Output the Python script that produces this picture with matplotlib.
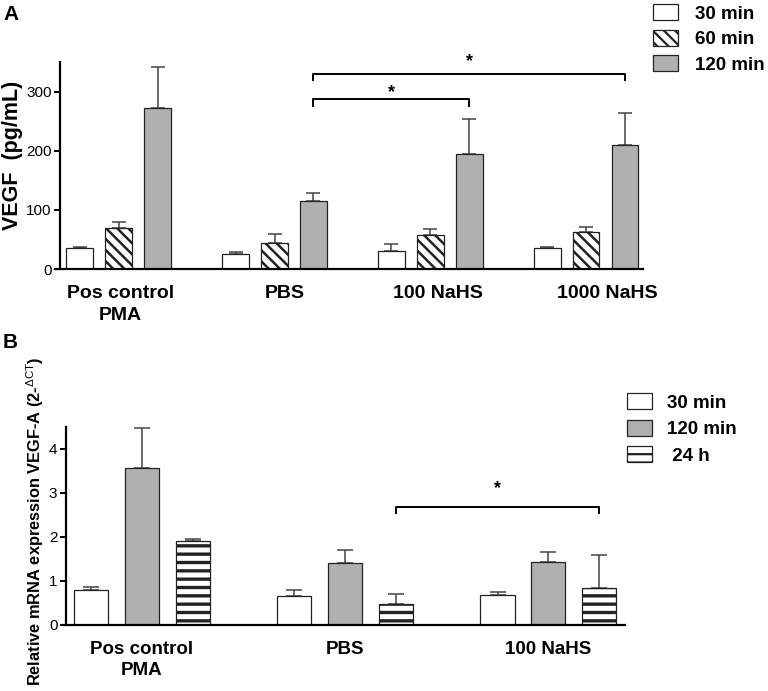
import matplotlib
matplotlib.use('Agg')
import numpy as np
from matplotlib import pyplot as plt

plt.rcParams['font.family'] = ['Liberation Sans', 'DejaVu Sans']
plt.rcParams['hatch.linewidth'] = 1.6
plt.rcParams['mathtext.fontset'] = 'custom'
plt.rcParams['mathtext.rm'] = 'Liberation Sans'

# ---- panel A: VEGF protein (pg/mL) ----
a_groups = ['Pos control\nPMA', 'PBS', '100 NaHS', '1000 NaHS']
a_series = ['30 min', '60 min', '120 min']
a_30 = [35, 26, 30, 35]
a_30_err = [1.5, 2.5, 13, 1.5]
a_60 = [70, 44, 58, 62]
a_60_err = [10, 15, 9, 9]
a_120 = [272, 115, 194, 209]
a_120_err = [70, 14, 59, 55]
a_label_shift = [0.04, 0.26, 0.19, 0.53]

# ---- panel B: relative mRNA VEGF-A ----
b_groups = ['Pos control\nPMA', 'PBS', '100 NaHS']
b_series = ['30 min', '120 min', ' 24 h']
b_30 = [0.79, 0.66, 0.68]
b_30_err = [0.07, 0.12, 0.06]
b_120 = [3.56, 1.41, 1.43]
b_120_err = [0.92, 0.29, 0.22]
b_24h = [1.90, 0.47, 0.84]
b_24h_err = [0.05, 0.23, 0.75]

GREY = '#b0b0b0'
EDGE = '#222222'


def draw_bars(ax, means, errs, fills, hatches, capsize, hatch_lw):
    n = len(means[0])
    base = np.arange(n) * 4
    bars = []
    for i in range(len(means)):
        x = base + i
        b = ax.bar(x, means[i], width=0.67, color=fills[i], edgecolor=EDGE,
                   linewidth=0.9, hatch=hatches[i], zorder=2)
        for p in b.patches:
            if hasattr(p, 'set_hatch_linewidth'):
                p.set_hatch_linewidth(hatch_lw)
        ax.errorbar(x, means[i], yerr=[np.zeros(n), errs[i]], fmt='none',
                    ecolor='#444444', elinewidth=1.1, capsize=capsize,
                    capthick=1.1, zorder=1)
        bars.append(b)
    return bars


def style_axis(ax):
    for s in ['top', 'right']:
        ax.spines[s].set_visible(False)
    ax.spines['left'].set_position(('data', -0.5))
    ax.spines['left'].set_linewidth(1.6)
    ax.spines['bottom'].set_linewidth(1.6)
    ax.tick_params(axis='y', length=4.5, width=1.4, pad=1.5, labelsize=11)
    ax.tick_params(axis='x', length=0, pad=11.5)


def bracket(ax, x0, x1, y, drop, star_y):
    ax.plot([x0, x0, x1, x1], [y - drop, y, y, y - drop], color='black',
            lw=1.4, clip_on=False)
    ax.text((x0 + x1) / 2, star_y, '*', ha='center', va='baseline',
            fontsize=13, fontweight='bold', clip_on=False)


fig = plt.figure(figsize=(7.68, 6.91), dpi=100)

# panel A
axA = fig.add_axes([0.0716, 0.6107, 0.7656, 0.2996])
barsA = draw_bars(axA, [a_30, a_60, a_120], [a_30_err, a_60_err, a_120_err],
                  ['white', 'white', GREY], ['', '\\\\\\', ''], 4.7, 1.8)
style_axis(axA)
axA.set_xlim(-0.63, 14.45)
axA.set_ylim(0, 350)
axA.set_yticks([0, 100, 200, 300])
axA.set_xticks(np.arange(4) * 4 + 1 + np.array(a_label_shift))
axA.set_xticklabels(a_groups, fontsize=14, fontweight='bold', linespacing=1.4)
bracket(axA, 6, 14, 329, 10, 343)
bracket(axA, 6, 10, 287, 12, 291)
axA.legend(barsA, a_series, loc='upper left', bbox_to_anchor=(0.850, 0.994),
           bbox_transform=fig.transFigure, frameon=False, borderpad=0,
           borderaxespad=0, handlelength=1.33, handleheight=0.96,
           handletextpad=0.9, labelspacing=0.37,
           prop={'size': 13.5, 'weight': 'bold'})
fig.text(13 / 768, 1 - 155 / 691, 'VEGF  (pg/mL)', rotation=90, ha='center',
         va='center', fontsize=15.5, fontweight='bold')
fig.text(3 / 768, 1 - 20 / 691, 'A', fontsize=15, fontweight='bold',
         va='baseline')

# panel B
axB = fig.add_axes([0.0803, 0.0959, 0.7335, 0.2866])
barsB = draw_bars(axB, [b_30, b_120, b_24h], [b_30_err, b_120_err, b_24h_err],
                  ['white', GREY, 'white'], ['', '', '--'], 6, 2.4)
style_axis(axB)
axB.set_xlim(-0.58, 10.51)
axB.set_ylim(0, 4.5)
axB.set_yticks([0, 1, 2, 3, 4])
axB.set_xticks(np.arange(3) * 4 + 1)
axB.set_xticklabels(b_groups, fontsize=13.5, fontweight='bold', linespacing=1.35)
bracket(axB, 6, 10, 2.67, 0.12, 2.98)
axB.legend(barsB, b_series, loc='upper left', bbox_to_anchor=(0.816, 0.431),
           bbox_transform=fig.transFigure, frameon=False, borderpad=0,
           borderaxespad=0, handlelength=1.33, handleheight=0.96,
           handletextpad=0.8, labelspacing=0.42,
           prop={'size': 13.5, 'weight': 'bold'})
fig.text(35 / 768, 1 - 521.5 / 691,
         'Relative mRNA expression VEGF-A (2-$^{\\mathrm{\u0394CT}}$)',
         rotation=90, ha='center', va='center', fontsize=11.8,
         fontweight='bold')
fig.text(3 / 768, 1 - 348 / 691, 'B', fontsize=15, fontweight='bold',
         va='baseline')

fig.savefig('out.png', dpi=100)
